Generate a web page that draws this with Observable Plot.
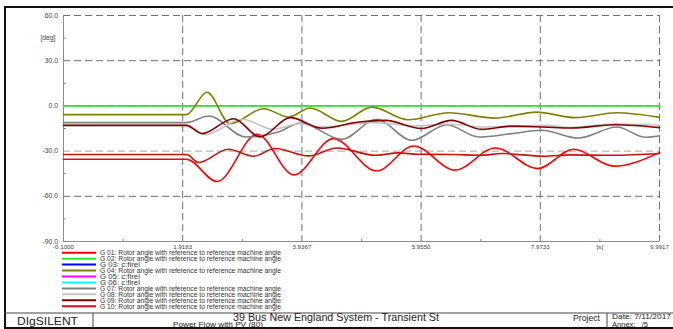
<!DOCTYPE html>
<html>
<head>
<meta charset="utf-8">
<script src="https://cdn.jsdelivr.net/npm/d3@7"></script>
<script src="https://cdn.jsdelivr.net/npm/@observablehq/plot@0.6"></script>
<style>
  html, body { margin: 0; padding: 0; background: #fff; }
  #page { position: relative; width: 673px; height: 329px; overflow: hidden;
          font-family: "Liberation Sans", Arial, sans-serif; }
  #page > svg { position: absolute; left: 0; top: 0; }
</style>
</head>
<body>
<div id="page"></div>
<script>
// Result variables: rotor angles of the ten generators [deg] over time [s]
const generators = ["G 01", "G 02", "G 03", "G 04", "G 05", "G 06", "G 07", "G 08", "G 09", "G 10"];
const descriptions = [
  "Rotor angle with reference to reference machine angle",
  "Rotor angle with reference to reference machine angle",
  "c:firel",
  "Rotor angle with reference to reference machine angle",
  "c:firel",
  "c:firel",
  "Rotor angle with reference to reference machine angle",
  "Rotor angle with reference to reference machine angle",
  "Rotor angle with reference to reference machine angle",
  "Rotor angle with reference to reference machine angle"
];
const colors = ["#ff0000", "#22ee22", "#0000ff", "#808000", "#ff00ff", "#00ffff",
                "#808080", "#c4c4c4", "#800000", "#cc1111"];

// [time s, angle deg] samples at the turning points of each trace
const g01 = [[-0.1,-35.4],[1.98,-35.4],[2.5,-50.2],[3.18,-18.8],[3.8,-45.8],[4.47,-21.7],[5.2,-43.2],
             [5.83,-26.6],[6.53,-42.6],[7.21,-27.9],[7.93,-41.6],[8.54,-28.8],[9.22,-40],[9.9917,-31]];
const g02 = [[-0.1,0],[9.9917,0]];
const g03 = [];
const g04 = [[-0.1,-5.8],[1.98,-5.8],[2.33,9.1],[2.72,-11.8],[3.29,-1.9],[3.71,-7.4],[4.08,-1.4],
             [4.61,-10.3],[5.12,-0.8],[5.74,-9.2],[6.42,-4.5],[7.21,-8.1],[7.91,-4.1],[8.56,-7.8],
             [9.27,-4.5],[9.9917,-7.6]];
const g05 = [];
const g06 = [];
const g07 = [[-0.1,-11.1],[1.98,-11.1],[2.36,-6.7],[2.98,-20.6],[3.54,-17.3],[3.92,-11.3],[4.61,-22.2],
             [5.2,-8.9],[5.8,-22.8],[6.39,-12.5],[6.93,-20.6],[7.49,-18.4],[8.0,-16.2],[8.62,-21.3],
             [9.27,-14],[9.75,-20.8],[9.9917,-19.8]];
const g08 = [[-0.1,-12.9],[1.98,-12.9],[2.3,-19.1],[2.92,-8.9],[3.45,-15.5],[3.9,-11.8],[4.22,-14],
             [5.12,-11.1],[5.9,-13.2],[6.39,-12],[7.04,-14],[7.6,-13.6],[8.03,-12.9],[8.5,-14.3],
             [9.24,-11.8],[9.9917,-12.8]];
const g09 = [[-0.1,-12.9],[1.98,-12.9],[2.245,-18.4],[2.78,-8.5],[3.23,-20.6],[3.74,-7.8],[4.28,-14.8],
             [4.9,-10.7],[5.35,-9.6],[5.96,-15],[6.47,-9.6],[6.98,-15.6],[7.49,-13.4],[8.03,-14],
             [8.5,-14.7],[9.24,-12.5],[9.9917,-14.4]];
const g10 = [[-0.1,-32.3],[1.98,-32.3],[2.19,-37.6],[2.69,-28.8],[3.12,-33.4],[3.48,-28.3],[4.05,-33.2],
             [4.53,-27.9],[5.18,-32.8],[5.57,-31.2],[5.9,-32.1],[6.5,-32.3],[6.98,-32.8],[7.32,-31.6],
             [8.03,-33.4],[8.5,-32.5],[9.2,-32.8],[9.9917,-31.6]];
const traces = [g01, g02, g03, g04, g05, g06, g07, g08, g09, g10];

// Axis ticks
const xTicks = [-0.1, 1.9183, 3.9367, 5.9550, 7.9733, 9.9917];
const xMinor = [0.9092, 2.9275, 4.9458, 6.9642, 8.9825];
const xUnitAt = 8.9825;
const yTicks = [60, 30, 0, -30, -60, -90];
const yMinor = [45, 15, -15, -45, -75];
const yUnitAt = 45;

const page = document.getElementById("page");
const font = '"Liberation Sans", Arial, sans-serif';
const dash = "7,4";

const lineMarks = traces.map((pts, i) =>
  Plot.line(pts, {x: d => d[0], y: d => d[1], stroke: colors[i], strokeWidth: 1.6, curve: "monotone-x"})
);

const chart = Plot.plot({
  width: 673,
  height: 329,
  marginLeft: 63,
  marginRight: 14,
  marginTop: 15,
  marginBottom: 88,
  style: {background: "transparent", fontFamily: font, overflow: "visible"},
  x: {domain: [xTicks[0], xTicks[xTicks.length - 1]]},
  y: {domain: [-90, 60]},
  marks: [
    Plot.ruleY(yTicks.filter(v => v !== -90 && v !== -30), {stroke: "#6e6e6e", strokeDasharray: dash}),
    Plot.ruleY([-30], {stroke: "#b8b8b8", strokeDasharray: dash, strokeWidth: 1.2}),
    Plot.ruleX(xTicks.slice(1), {stroke: "#6e6e6e", strokeDasharray: dash}),
    Plot.ruleX([xTicks[0]], {stroke: "#8c8c8c"}),
    Plot.ruleY([-90], {stroke: "#8c8c8c"}),
    Plot.axisY(yMinor, {tickSize: 3, dx: 3, tickFormat: () => "", stroke: "#8c8c8c"}),
    Plot.axisX(xMinor, {tickSize: 2, dy: -2, tickFormat: () => "", stroke: "#8c8c8c"}),
    Plot.axisY(yTicks, {tickSize: 0, tickPadding: 5.5, tickFormat: d => d.toFixed(1),
                        fontSize: 6.8, fill: "#444"}),
    Plot.axisY([yUnitAt], {tickSize: 0, tickPadding: 8, tickFormat: () => "[deg]",
                           fontSize: 6.8, fill: "#444"}),
    Plot.axisX(xTicks, {tickSize: 0, tickPadding: 3, tickFormat: d => d.toFixed(4),
                        fontSize: 6.2, fill: "#444"}),
    Plot.axisX([xUnitAt], {tickSize: 0, tickPadding: 3, tickFormat: () => "[s]",
                           fontSize: 6.2, fill: "#444"}),
    ...lineMarks
  ]
});
page.appendChild(chart);

// Legend and title block
const svg = d3.select(page).append("svg")
  .attr("width", 673).attr("height", 329)
  .style("font-family", font);

const legend = svg.append("g").attr("transform", "translate(62,252.7)");
generators.forEach((g, i) => {
  const label = `${g}: ${descriptions[i]}`;
  const row = legend.append("g").attr("transform", `translate(0,${i * 5.95})`);
  row.append("line").attr("x1", 0).attr("x2", 34).attr("y1", 0).attr("y2", 0)
    .attr("stroke", colors[i]).attr("stroke-width", 2);
  row.append("text").attr("x", 38).attr("y", 0).attr("dy", "0.34em")
    .attr("font-size", 6.6).attr("fill", "#333")
    .attr("textLength", label.length * 3.07).attr("lengthAdjust", "spacingAndGlyphs")
    .text(label);
});

const frame = svg.append("g").attr("fill", "none");
frame.append("line").attr("x1", 4).attr("x2", 673).attr("y1", 7).attr("y2", 7)
  .attr("stroke", "#111").attr("stroke-width", 2);
frame.append("line").attr("x1", 5).attr("x2", 5).attr("y1", 6).attr("y2", 329)
  .attr("stroke", "#111").attr("stroke-width", 2);
frame.append("line").attr("x1", 4).attr("x2", 673).attr("y1", 313).attr("y2", 313)
  .attr("stroke", "#444").attr("stroke-width", 1);
frame.append("line").attr("x1", 4).attr("x2", 673).attr("y1", 328).attr("y2", 328)
  .attr("stroke", "#111").attr("stroke-width", 2);
frame.append("line").attr("x1", 93).attr("x2", 93).attr("y1", 313).attr("y2", 328)
  .attr("stroke", "#444").attr("stroke-width", 1);
frame.append("line").attr("x1", 607).attr("x2", 607).attr("y1", 313).attr("y2", 328)
  .attr("stroke", "#444").attr("stroke-width", 1);

const block = [
  {text: "DIgSILENT", x: 17, y: 324.5, size: 10.8, w: 61},
  {text: "39 Bus New England System - Transient St", x: 233, y: 320.8, size: 10.4, w: 206},
  {text: "Power Flow with PV (80)", x: 173, y: 327.2, size: 7.6, w: 90},
  {text: "Project", x: 573, y: 320.5, size: 8.6, w: 27},
  {text: "Date: 7/11/2017", x: 612, y: 319.2, size: 6.3, w: 59},
  {text: "Annex:   /5", x: 612, y: 327.0, size: 6.3, w: 36}
];
svg.append("g").selectAll("text").data(block).join("text")
  .attr("x", d => d.x).attr("y", d => d.y)
  .attr("font-size", d => d.size).attr("fill", "#222")
  .attr("textLength", d => d.w).attr("lengthAdjust", "spacingAndGlyphs")
  .style("white-space", "pre")
  .text(d => d.text);
</script>
</body>
</html>
